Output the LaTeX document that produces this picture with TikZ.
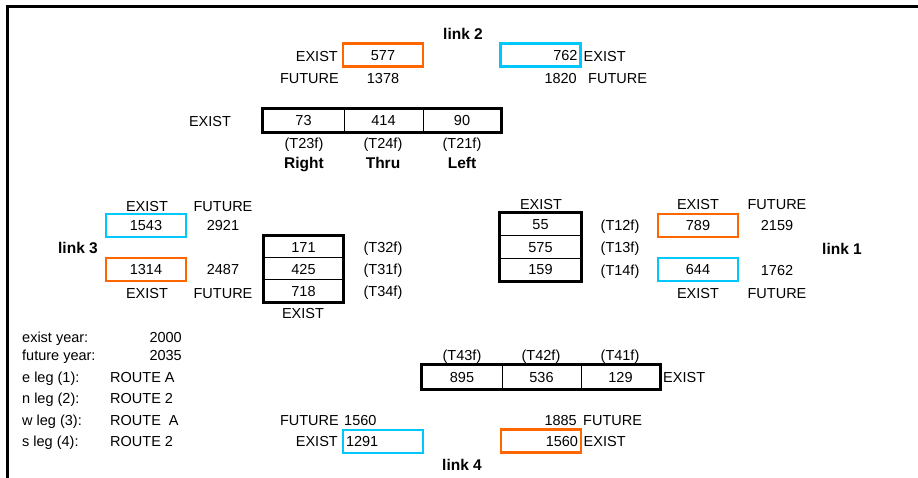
\documentclass[tikz,border=0pt]{standalone}
\usepackage{fontspec}
\setmainfont{Liberation Sans}
\definecolor{boxorange}{RGB}{255,102,0}
\definecolor{boxblue}{RGB}{0,200,250}
\begin{document}
\begin{tikzpicture}[x=1pt,y=-1pt,
  lbl/.style={inner sep=0pt, text height=10.4pt, text depth=0pt, font=\fontsize{14.5}{17}\selectfont},
  bold/.style={lbl, font=\fontsize{15.5}{18}\selectfont\bfseries},
  colbox/.style={lbl, minimum height=23pt, inner xsep=3pt, text width=74pt},
  obox/.style={colbox, draw=boxorange, line width=2.4pt},
  bbox/.style={colbox, draw=boxblue, line width=2.4pt},
  cell/.style={lbl, draw=black, line width=1pt, align=center},
  outer/.style={draw=black, line width=2.8pt},
  frame/.style={line width=2.7pt}
]
\useasboundingbox (0,0) rectangle (918,478);
% frame
\coordinate (ftl) at (7.3,6.7);
\coordinate (ftr) at (918,6.7);
\coordinate (fbl) at (7.3,478);
\draw[frame] (ftr) -- (ftl) -- (fbl);

% ---------- link 2 (top) ----------
\node[bold] (link2) at (463,34) {link 2};
\node[obox, align=center] (b577) at (383,55) {577};
\node[lbl, anchor=east] (ex577) at (338,56) {EXIST};
\node[lbl, anchor=east] (fu577) at (339,78) {FUTURE};
\node[lbl] (v1378) at (383,78) {1378};
\node[bbox, align=right] (b762) at (540.5,55) {762};
\node[lbl, anchor=west] (ex762) at (583.5,56) {EXIST};
\node[lbl, anchor=east] (v1820) at (577,78) {1820};
\node[lbl, anchor=west] (fu1820) at (588,78) {FUTURE};

% top table
\node[lbl] (extop) at (210,121) {EXIST};
\node[cell, minimum width=81pt, minimum height=23pt] (t1) at (303.5,120.5) {73};
\node[cell, minimum width=79pt, minimum height=23pt] (t2) at (383.5,120.5) {414};
\node[cell, minimum width=78pt, minimum height=23pt] (t3) at (462,120.5) {90};
\draw[outer] (t1.north west) rectangle (t3.south east);
\node[lbl] (T23) at (304,143) {(T23f)};
\node[lbl] (T24) at (383,143) {(T24f)};
\node[lbl] (T21) at (462,143) {(T21f)};
\node[bold] (right) at (304,163) {Right};
\node[bold] (thru) at (383,163) {Thru};
\node[bold] (left) at (462,163) {Left};

% ---------- link 3 (west) ----------
\node[lbl] (l3ex1) at (147,206) {EXIST};
\node[lbl] (l3fu1) at (223,206) {FUTURE};
\node[bbox, align=center] (b1543) at (146,225.5) {1543};
\node[lbl] (v2921) at (223,225) {2921};
\node[bold] (link3) at (78,248) {link 3};
\node[obox, align=center] (b1314) at (146,269.5) {1314};
\node[lbl] (v2487) at (223,269) {2487};
\node[lbl] (l3ex2) at (147,293) {EXIST};
\node[lbl] (l3fu2) at (223,293) {FUTURE};

\node[cell, minimum width=79pt, minimum height=22pt] (w1) at (303.5,247) {171};
\node[cell, minimum width=79pt, minimum height=22pt] (w2) at (303.5,269) {425};
\node[cell, minimum width=79pt, minimum height=22pt] (w3) at (303.5,291) {718};
\draw[outer] (w1.north west) rectangle (w3.south east);
\node[lbl] (T32) at (383,247) {(T32f)};
\node[lbl] (T31) at (383,269) {(T31f)};
\node[lbl] (T34) at (383,291) {(T34f)};
\node[lbl] (exw) at (303,313) {EXIST};

% ---------- link 1 (east) ----------
\node[lbl] (exe) at (541,204) {EXIST};
\node[cell, minimum width=81pt, minimum height=22.7pt] (e1) at (540.5,224.3) {55};
\node[cell, minimum width=81pt, minimum height=22.7pt] (e2) at (540.5,247) {575};
\node[cell, minimum width=81pt, minimum height=22.7pt] (e3) at (540.5,269.7) {159};
\draw[outer] (e1.north west) rectangle (e3.south east);
\node[lbl] (T12) at (620,225) {(T12f)};
\node[lbl] (T13) at (620,247) {(T13f)};
\node[lbl] (T14) at (620,270) {(T14f)};
\node[lbl] (l1ex1) at (698,204) {EXIST};
\node[lbl] (l1fu1) at (777,204) {FUTURE};
\node[obox, align=center] (b789) at (698,225.5) {789};
\node[lbl] (v2159) at (777,225) {2159};
\node[bold] (link1) at (842,249) {link 1};
\node[bbox, align=center] (b644) at (698,269.5) {644};
\node[lbl] (v1762) at (777,270) {1762};
\node[lbl] (l1ex2) at (698,293) {EXIST};
\node[lbl] (l1fu2) at (777,293) {FUTURE};

% ---------- legend ----------
\node[lbl, anchor=west] (lg1) at (22,337) {exist year:};
\node[lbl, anchor=west] (lg2) at (22,355) {future year:};
\node[lbl, anchor=west] (lg3) at (22,377) {e leg (1):};
\node[lbl, anchor=west] (lg4) at (22,398) {n leg (2):};
\node[lbl, anchor=west] (lg5) at (22,420) {w leg (3):};
\node[lbl, anchor=west] (lg6) at (22,441) {s leg (4):};
\node[lbl, anchor=east] (lv1) at (182,337) {2000};
\node[lbl, anchor=east] (lv2) at (182,355) {2035};
\node[lbl, anchor=west] (lv3) at (110,377) {ROUTE A};
\node[lbl, anchor=west] (lv4) at (110,398) {ROUTE 2};
\node[lbl, anchor=west] (lv5) at (110,420) {ROUTE\ \ A};
\node[lbl, anchor=west] (lv6) at (110,441) {ROUTE 2};

% ---------- link 4 (south) ----------
\node[lbl] (T43) at (462,355) {(T43f)};
\node[lbl] (T42) at (541,355) {(T42f)};
\node[lbl] (T41) at (620,355) {(T41f)};
\node[cell, minimum width=80pt, minimum height=24pt] (s1) at (462,377) {895};
\node[cell, minimum width=79pt, minimum height=24pt] (s2) at (541.5,377) {536};
\node[cell, minimum width=79pt, minimum height=24pt] (s3) at (620.5,377) {129};
\draw[outer] (s1.north west) rectangle (s3.south east);
\node[lbl, anchor=west] (exs) at (663,377) {EXIST};

\node[lbl, anchor=east] (fu4a) at (339,420) {FUTURE};
\node[lbl, anchor=west] (v1560a) at (344,420) {1560};
\node[lbl, anchor=east] (ex4a) at (338,441) {EXIST};
\node[bbox, align=left] (b1291) at (383,441.5) {1291};
\node[lbl, anchor=east] (v1885) at (577,420) {1885};
\node[lbl, anchor=west] (fu4b) at (583,420) {FUTURE};
\node[obox, align=right] (b1560) at (541,441) {1560};
\node[lbl, anchor=west] (ex4b) at (583.5,441) {EXIST};
\node[bold] (link4) at (462,465) {link 4};
\end{tikzpicture}
\end{document}
